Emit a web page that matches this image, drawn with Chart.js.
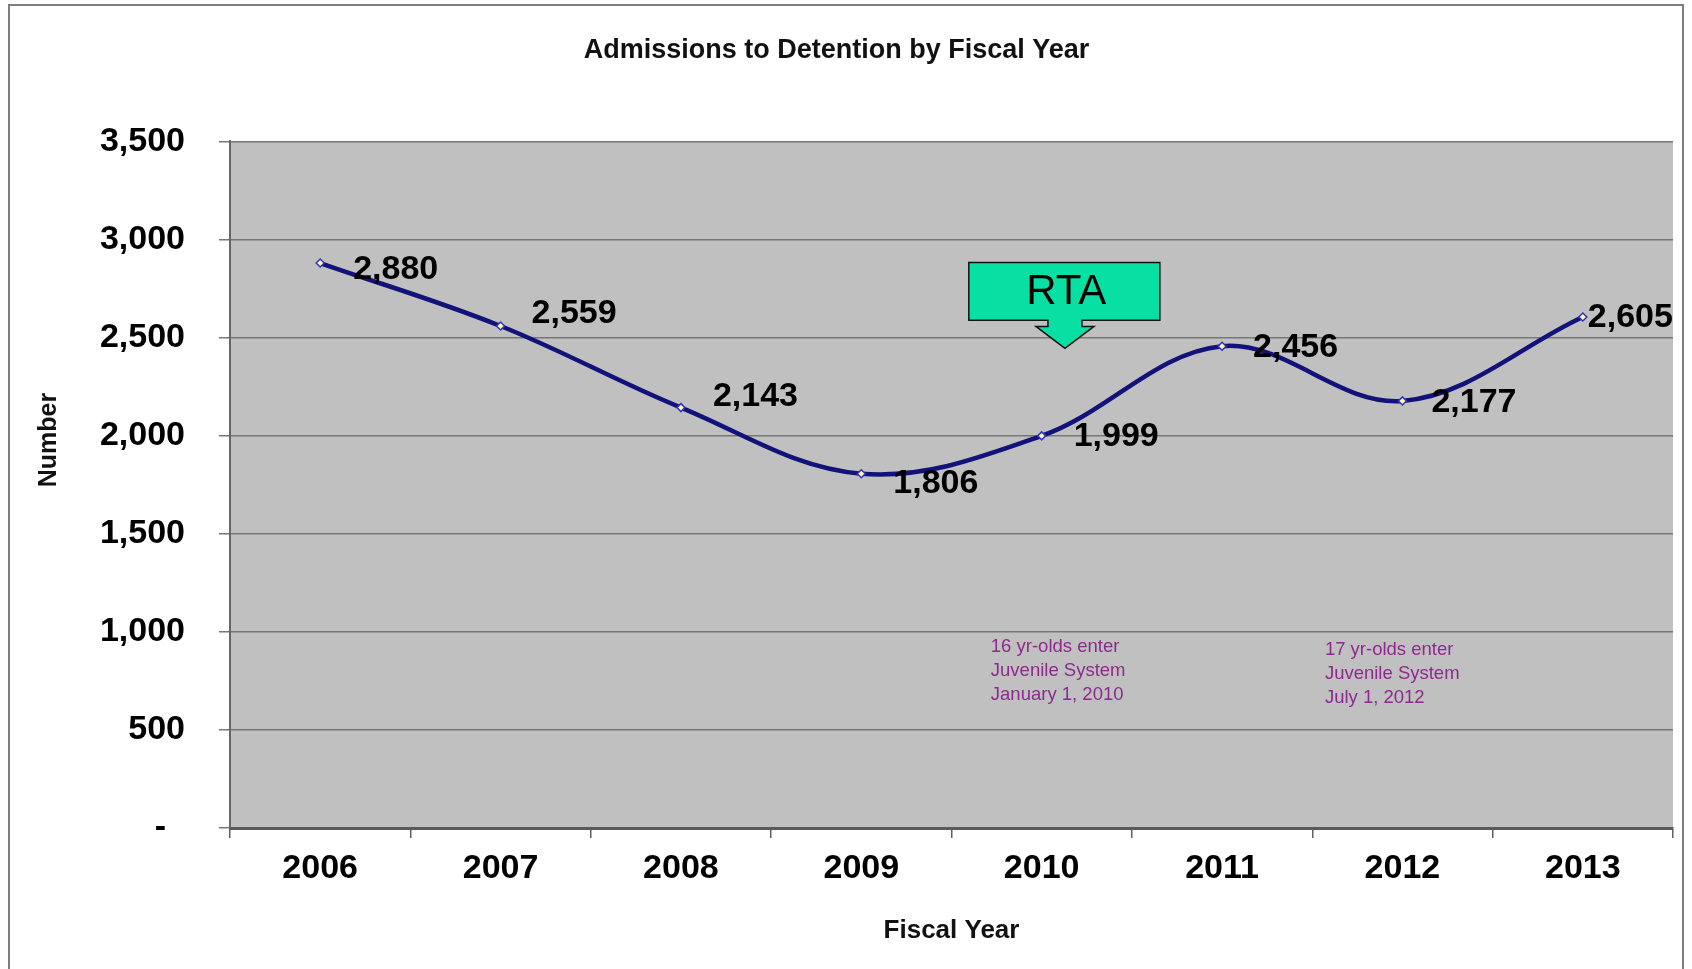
<!DOCTYPE html>
<html>
<head>
<meta charset="utf-8">
<script src="https://cdn.jsdelivr.net/npm/chart.js@4.4.1/dist/chart.umd.min.js"></script>
<style>
html,body{margin:0;padding:0;background:#fff;overflow:hidden}
#wrap{position:relative;width:1692px;height:969px}
</style>
</head>
<body>
<div id="wrap"><canvas id="c" width="1692" height="969"></canvas></div>
<script>
// ---- data ----
const categories = ['2006', '2007', '2008', '2009', '2010', '2011', '2012', '2013'];
const admissions = [2880, 2559, 2143, 1806, 1999, 2456, 2177, 2605];
const yTickValues = [0, 500, 1000, 1500, 2000, 2500, 3000, 3500];
const chartTitle = 'Admissions to Detention by Fiscal Year';
const xTitle = 'Fiscal Year';
const yTitle = 'Number';
const calloutText = 'RTA';
const note2010 = ['16 yr-olds enter', 'Juvenile System', 'January 1, 2010'];
const note2012 = ['17 yr-olds enter', 'Juvenile System', 'July 1, 2012'];

const FONT = "'Liberation Sans', Arial, sans-serif";

function fmt(v) {
  return v === 0 ? '-  ' : v.toLocaleString('en-US');
}

// background of plot + outer frame
const backgroundPlugin = {
  id: 'bg',
  beforeDraw(chart) {
    const { ctx, chartArea: a } = chart;
    ctx.save();
    ctx.fillStyle = '#ffffff';
    ctx.fillRect(0, 0, chart.width, chart.height);
    ctx.fillStyle = '#c0c0c0';
    ctx.fillRect(a.left, a.top, a.right - a.left, a.bottom - a.top);
    ctx.strokeStyle = '#7f7f7f';
    ctx.lineWidth = 2;
    ctx.strokeRect(9, 5, 1674, 1000);
    ctx.restore();
  }
};

// data labels
const labelPlugin = {
  id: 'pointLabels',
  afterDatasetsDraw(chart, args, opts) {
    const { ctx } = chart;
    const meta = chart.getDatasetMeta(0);
    ctx.save();
    ctx.font = 'bold 34px ' + FONT;
    ctx.fillStyle = '#000';
    ctx.textAlign = 'left';
    ctx.textBaseline = 'middle';
    meta.data.forEach((pt, i) => {
      const v = chart.data.datasets[0].data[i];
      ctx.fillText(fmt(v), pt.x + opts.dx[i], pt.y + opts.dy[i]);
    });
    ctx.restore();
  }
};

// RTA callout + notes + y title
const annotationPlugin = {
  id: 'annotations',
  afterDatasetsDraw(chart) {
    const { ctx } = chart;
    const xs = chart.scales.x, ys = chart.scales.y;
    // callout anchored in data space
    const L = xs.getPixelForValue(3.596), R = xs.getPixelForValue(4.655);
    const cx = xs.getPixelForValue(4.129);
    const T = ys.getPixelForValue(2883), B = ys.getPixelForValue(2588);
    const S = ys.getPixelForValue(2557), tip = ys.getPixelForValue(2445);
    const sw = 17, hw = 29;
    ctx.save();
    ctx.beginPath();
    ctx.moveTo(L, T);
    ctx.lineTo(R, T);
    ctx.lineTo(R, B);
    ctx.lineTo(cx + sw, B);
    ctx.lineTo(cx + sw, S);
    ctx.lineTo(cx + hw, S);
    ctx.lineTo(cx, tip);
    ctx.lineTo(cx - hw, S);
    ctx.lineTo(cx - sw, S);
    ctx.lineTo(cx - sw, B);
    ctx.lineTo(L, B);
    ctx.closePath();
    ctx.fillStyle = '#07e0a2';
    ctx.fill();
    ctx.strokeStyle = '#111';
    ctx.lineWidth = 1.5;
    ctx.stroke();
    ctx.fillStyle = '#000';
    ctx.font = '42px ' + FONT;
    ctx.textAlign = 'center';
    ctx.textBaseline = 'middle';
    ctx.fillText(calloutText, (L + R) / 2 + 2, (T + B) / 2 + 1);

    // notes
    ctx.font = '18.5px ' + FONT;
    ctx.fillStyle = '#8e2a8e';
    ctx.textAlign = 'left';
    const n1x = xs.getPixelForValue(3.718), n1y = ys.getPixelForValue(925);
    note2010.forEach((t, i) => ctx.fillText(t, n1x, n1y + i * 24));
    const n2x = xs.getPixelForValue(5.570), n2y = ys.getPixelForValue(910);
    note2012.forEach((t, i) => ctx.fillText(t, n2x, n2y + i * 24));

    // y title
    ctx.font = 'bold 25px ' + FONT;
    ctx.fillStyle = '#111';
    ctx.textAlign = 'center';
    ctx.translate(49, 440);
    ctx.rotate(-Math.PI / 2);
    ctx.fillText(yTitle, 0, 0);
    ctx.restore();
  }
};

new Chart(document.getElementById('c'), {
  type: 'line',
  data: {
    labels: categories,
    datasets: [{
      data: admissions,
      borderColor: '#12127a',
      borderWidth: 4.5,
      tension: 0.36,
      pointStyle: 'rectRot',
      pointRadius: 4,
      pointBackgroundColor: '#ffff99',
      pointBorderColor: '#3030d0',
      pointBorderWidth: 1.5,
      fill: false,
      clip: false
    }]
  },
  options: {
    responsive: false,
    animation: false,
    devicePixelRatio: 1,
    layout: { padding: { left: 0, right: 19, top: 0, bottom: 0 } },
    plugins: {
      legend: { display: false },
      tooltip: { enabled: false },
      title: {
        display: true,
        text: chartTitle,
        color: '#111',
        font: { family: FONT, size: 27, weight: 'bold' },
        padding: { top: 34, bottom: 75 }
      },
      pointLabels: {
        dx: [33, 31, 32, 32, 32, 31, 29, 5],
        dy: [7, -12, -11, 10, 1, 1, 2, 1]
      }
    },
    scales: {
      x: {
        type: 'category',
        offset: true,
        afterFit(scale) { scale.height = 141; },
        grid: {
          offset: true,
          drawOnChartArea: false,
          drawTicks: true,
          tickLength: 10,
          color: '#606060',
          lineWidth: 1.5
        },
        border: { display: true, color: '#5a5a5a', width: 3 },
        ticks: {
          color: '#000',
          font: { family: FONT, size: 34, weight: 'bold' },
          padding: 10,
          maxRotation: 0,
          autoSkip: false
        },
        title: {
          display: true,
          text: xTitle,
          color: '#111',
          font: { family: FONT, size: 26, weight: 'bold' },
          padding: { top: 0, bottom: 23 }
        }
      },
      y: {
        min: 0,
        max: 3500,
        afterFit(scale) { scale.width = 230; },
        afterBuildTicks(scale) { scale.ticks = yTickValues.map(v => ({ value: v })); },
        grid: {
          color: '#777777',
          lineWidth: 1.5,
          tickLength: 11,
          drawTicks: true
        },
        border: { display: true, color: '#666666', width: 2 },
        ticks: {
          color: '#000',
          font: { family: FONT, size: 34, weight: 'bold' },
          padding: 34,
          callback: (v) => fmt(v)
        }
      }
    }
  },
  plugins: [backgroundPlugin, labelPlugin, annotationPlugin]
});
</script>
</body>
</html>
